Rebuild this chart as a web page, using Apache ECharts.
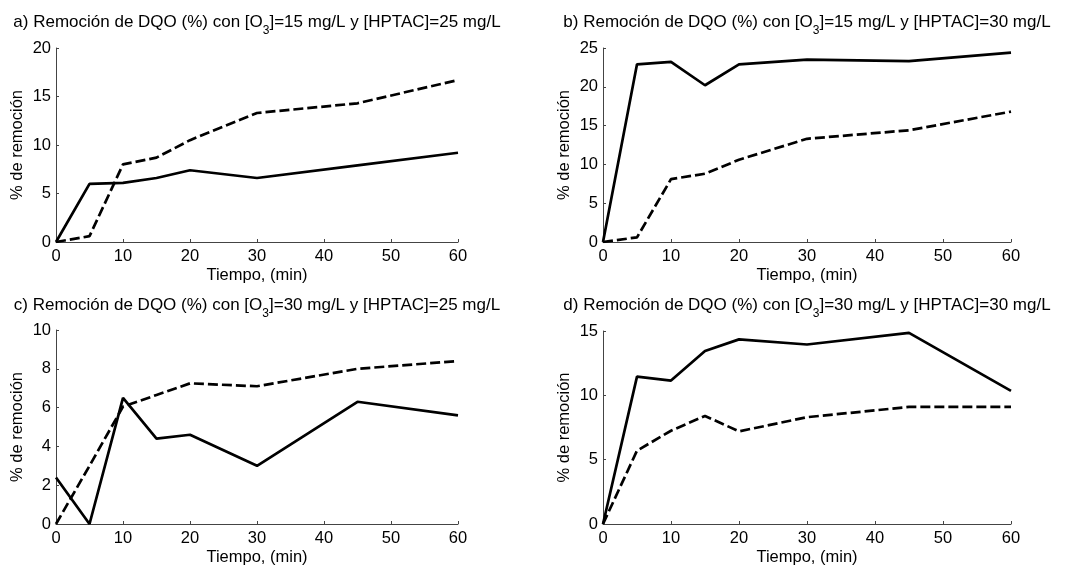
<!DOCTYPE html>
<html>
<head>
<meta charset="utf-8">
<script src="https://cdn.jsdelivr.net/npm/echarts@6/dist/echarts.min.js"></script>
<style>
html,body{margin:0;padding:0;background:#fff;}
#chart{width:1065px;height:567px;}
</style>
</head>
<body>
<div id="chart"></div>
<script>
const times = [0, 5, 10, 15, 20, 30, 45, 60];
const xTicks = [0, 10, 20, 30, 40, 50, 60];

const aSolid  = [0, 6.0, 6.1, 6.6, 7.4, 6.6, 7.9, 9.2];
const aDashed = [0, 0.6, 8.0, 8.7, 10.5, 13.3, 14.3, 16.7];
const bSolid  = [0, 22.9, 23.2, 20.2, 22.9, 23.5, 23.3, 24.4];
const bDashed = [0, 0.6, 8.1, 8.8, 10.6, 13.3, 14.4, 16.8];
const cSolid  = [2.4, 0, 6.5, 4.4, 4.6, 3.0, 6.3, 5.6];
const cDashed = [0, 3.0, 6.05, 6.65, 7.25, 7.1, 8.0, 8.4];
const dSolid  = [0, 11.45, 11.15, 13.45, 14.35, 13.95, 14.85, 10.35];
const dDashed = [0, 5.7, 7.25, 8.4, 7.2, 8.3, 9.1, 9.1];

const titles = [
  ['a) Remoción de DQO (%) con [O', '3', ']=15 mg/L y [HPTAC]=25 mg/L'],
  ['b) Remoción de DQO (%) con [O', '3', ']=15 mg/L y [HPTAC]=30 mg/L'],
  ['c) Remoción de DQO (%) con [O', '3', ']=30 mg/L y [HPTAC]=25 mg/L'],
  ['d) Remoción de DQO (%) con [O', '3', ']=30 mg/L y [HPTAC]=30 mg/L']
];
const yMax = [20, 25, 10, 15];
const yInterval = [5, 5, 2, 5];
const xLabel = 'Tiempo, (min)';
const yLabel = '% de remoción';

const panels = [
  {solid: aSolid, dashed: aDashed},
  {solid: bSolid, dashed: bDashed},
  {solid: cSolid, dashed: cDashed},
  {solid: dSolid, dashed: dDashed}
];

const FONT = 'Liberation Sans, Arial, Helvetica, sans-serif';
const grids = [
  {left: 56, top: 48, width: 402, height: 194},
  {left: 603, top: 48, width: 408, height: 194},
  {left: 56, top: 330, width: 402, height: 194},
  {left: 603, top: 331, width: 408, height: 193}
];
const titleTops = [14, 14, 297, 297];

const richStyle = {
  n: {fontSize: 17, color: '#000', fontFamily: FONT, verticalAlign: 'top', lineHeight: 20},
  s: {fontSize: 12, color: '#000', fontFamily: FONT, verticalAlign: 'top', lineHeight: 14, padding: [11, 0, 0, 0]}
};

const option = {
  animation: false,
  backgroundColor: '#fff',
  title: titles.map((t, i) => ({
    text: '{n|' + t[0] + '}{s|' + t[1] + '}{n|' + t[2] + '}',
    left: grids[i].left + grids[i].width / 2,
    top: titleTops[i],
    textAlign: 'center',
    padding: 0,
    textStyle: {rich: richStyle, fontSize: 17, fontWeight: 'normal', color: '#000', fontFamily: FONT}
  })),
  grid: grids.map(g => Object.assign({containLabel: false}, g)),
  xAxis: grids.map((g, i) => ({
    type: 'value',
    gridIndex: i,
    min: 0, max: 60, interval: 10,
    name: xLabel,
    nameLocation: 'middle',
    nameGap: 25,
    nameTextStyle: {fontSize: 16.5, color: '#000', fontFamily: FONT},
    axisLine: {show: true, onZero: false, lineStyle: {color: '#444', width: 1}},
    axisTick: {show: true, inside: true, length: 3, lineStyle: {color: '#444'}},
    axisLabel: {fontSize: 16.5, color: '#000', margin: 6, fontFamily: FONT, showMinLabel: true, showMaxLabel: true},
    splitLine: {show: false}
  })),
  yAxis: grids.map((g, i) => ({
    type: 'value',
    gridIndex: i,
    min: 0, max: yMax[i], interval: yInterval[i],
    name: yLabel,
    nameLocation: 'middle',
    nameGap: 30,
    nameTextStyle: {fontSize: 16.5, color: '#000', fontFamily: FONT},
    axisLine: {show: true, onZero: false, lineStyle: {color: '#444', width: 1}},
    axisTick: {show: true, inside: true, length: 3, lineStyle: {color: '#444'}},
    axisLabel: {fontSize: 16.5, color: '#000', margin: 5, fontFamily: FONT},
    splitLine: {show: false}
  })),
  series: []
};

panels.forEach((p, i) => {
  option.series.push({
    type: 'line', xAxisIndex: i, yAxisIndex: i,
    data: times.map((t, k) => [t, p.dashed[k]]),
    showSymbol: false, symbol: 'none',
    lineStyle: {color: '#000', width: 2.7, type: [10, 4]},
    z: 2
  });
  option.series.push({
    type: 'line', xAxisIndex: i, yAxisIndex: i,
    data: times.map((t, k) => [t, p.solid[k]]),
    showSymbol: false, symbol: 'none',
    lineStyle: {color: '#000', width: 2.7, type: 'solid'},
    z: 3
  });
});

const chart = echarts.init(document.getElementById('chart'), null, {renderer: 'canvas'});
chart.setOption(option);
</script>
</body>
</html>
